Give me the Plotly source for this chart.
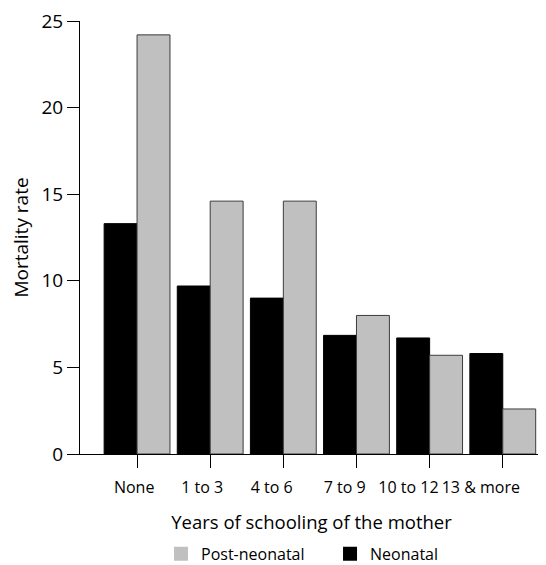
import plotly.graph_objects as go

categories = ["None", "1 to 3", "4 to 6", "7 to 9", "10 to 12", "13 & more"]
neonatal = [13.3, 9.7, 9.0, 6.85, 6.7, 5.8]
post_neonatal = [24.2, 14.6, 14.6, 8.0, 5.7, 2.6]
y_ticks = [0, 5, 10, 15, 20, 25]
label_shift = [-0.04, -0.11, -0.16, -0.16, -0.29, -0.30]

FONT = "Open Sans"
GRAY = "rgb(192,192,192)"
pos = list(range(len(categories)))

fig = go.Figure()
fig.add_trace(go.Bar(
    x=pos, y=neonatal, name="Neonatal", showlegend=False,
    marker=dict(color="black", line=dict(color="black", width=1)),
))
fig.add_trace(go.Bar(
    x=pos, y=post_neonatal, name="Post-neonatal", showlegend=False,
    marker=dict(color=GRAY, line=dict(color="rgb(60,60,60)", width=1)),
))
# legend entries (square swatches without outline)
fig.add_trace(go.Scatter(x=[None], y=[None], mode="markers", name="Post-neonatal",
                         marker=dict(symbol="square", size=14, color=GRAY, line=dict(width=0))))
fig.add_trace(go.Scatter(x=[None], y=[None], mode="markers", name="Neonatal",
                         marker=dict(symbol="square", size=14, color="black", line=dict(width=0))))
# invisible trace to anchor overlay axis for tick labels
fig.add_trace(go.Scatter(x=[p + s for p, s in zip(pos, label_shift)], y=[0]*len(pos),
                         xaxis="x2", mode="markers", marker=dict(opacity=0),
                         showlegend=False, hoverinfo="skip"))

xr = [-0.78, 5.55]
fig.update_layout(
    width=538, height=557,
    margin=dict(l=72, r=3, t=13, b=111),
    paper_bgcolor="white", plot_bgcolor="white",
    barmode="group", bargap=0.1, bargroupgap=0,
    font=dict(family=FONT, color="black"),
    xaxis=dict(
        range=xr, tickmode="array", tickvals=pos, showticklabels=False,
        ticks="outside", ticklen=13, tickcolor="black", tickwidth=1,
        showline=True, linecolor="black", linewidth=1,
        showgrid=False, zeroline=False, automargin=False,
        title=dict(text="Years of schooling of the mother", font=dict(size=18.5), standoff=49),
    ),
    xaxis2=dict(
        range=xr, overlaying="x", anchor="y", side="bottom", automargin=False,
        tickmode="array", tickvals=[p + s for p, s in zip(pos, label_shift)],
        ticktext=categories, ticks="", showline=False, showgrid=False, zeroline=False,
        tickfont=dict(size=16), ticklabelstandoff=22, ticklabeloverflow="allow",
    ),
    yaxis=dict(
        range=[0, 25], tickmode="array", tickvals=y_ticks,
        ticks="outside", ticklen=12, tickcolor="black", tickwidth=1,
        showline=True, linecolor="black", linewidth=1,
        showgrid=False, zeroline=False, automargin=False,
        tickfont=dict(size=19), ticklabeloverflow="allow",
        title=dict(text="Mortality rate", font=dict(size=19), standoff=14),
    ),
    legend=dict(
        orientation="h", yref="container",
        x=0.175, xanchor="left", y=0.02, yanchor="middle",
        font=dict(size=16), entrywidth=124,
    ),
    showlegend=True,
)

fig.write_html("out.html")
